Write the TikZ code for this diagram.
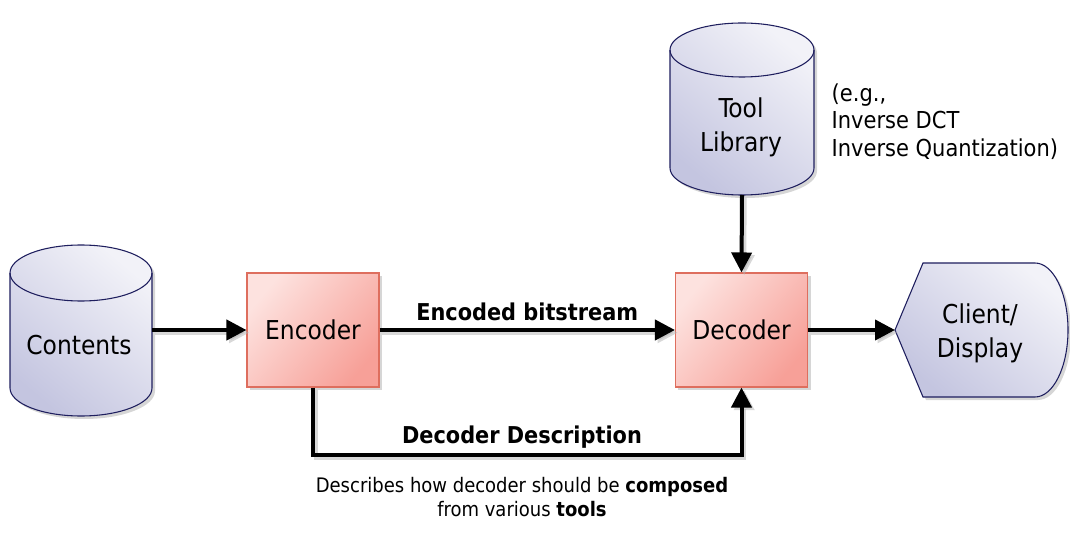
\documentclass[tikz,border=0pt]{standalone}
\usepackage{fontspec}
\setmainfont{DejaVu Sans Condensed}
\usetikzlibrary{arrows.meta,calc}
\definecolor{boxlight}{HTML}{FDE2DF}
\definecolor{boxdark}{HTML}{F7A098}
\definecolor{boxedge}{HTML}{DE6E5E}
\definecolor{cyllight}{HTML}{F2F2F8}
\definecolor{cyldark}{HTML}{C4C5E0}
\definecolor{cyledge}{HTML}{1E1E5E}
\newcommand\mycyl[5]{%
  \fill[black!35,opacity=.45,shift={(3,-3)}] ({#1-#4},#2) -- ({#1-#4},#3) arc[start angle=180,end angle=360,x radius=#4,y radius=#5] -- ({#1+#4},#2) arc[start angle=0,end angle=180,x radius=#4,y radius=#5] -- cycle;
  \path[cylshade] ({#1-#4},#2) -- ({#1-#4},#3) arc[start angle=180,end angle=360,x radius=#4,y radius=#5] -- ({#1+#4},#2) arc[start angle=0,end angle=180,x radius=#4,y radius=#5] -- cycle;
  \draw[cyledge,line width=0.8pt] ({#1-#4},#2) arc[start angle=180,end angle=360,x radius=#4,y radius=#5];
}
\begin{document}
\begin{tikzpicture}[x=0.75pt,y=0.75pt,
  conn/.style={line width=3pt,-{Triangle[length=15pt,width=15pt]}},
  connshadow/.style={line width=3pt,draw=black!30,opacity=.5,-{Triangle[length=15pt,width=15pt]},transform canvas={shift={(2pt,-2pt)}}},
  cylshade/.style={draw=cyledge,line width=0.8pt,top color=cyllight,bottom color=cyldark,shading angle=-40},
  box/.style={draw=boxedge,line width=0.8pt,minimum width=99pt,minimum height=85.5pt,top color=boxlight,bottom color=boxdark,shading angle=50,font=\fontsize{19.5}{23}\selectfont},
  big/.style={font=\fontsize{19.5}{25.5}\selectfont,align=center},
  lbl/.style={font=\fontsize{17.4}{20}\selectfont\bfseries},
  small/.style={font=\fontsize{15}{18}\selectfont,align=center},
  hidden/.style={inner sep=0pt,outer sep=0pt}
]
\useasboundingbox (0,0) rectangle (1070,536);
\fill[white] (0,0) rectangle (1070,536);

% cylinders
\mycyl{81}{263}{148}{71}{28}
\mycyl{742}{486}{368}{72}{27}
\node[hidden,minimum width=106.5pt,minimum height=128.25pt] (cont) at (81,205.5) {};
\node[big] (conttxt) at (79,191) {Contents};
\node[hidden,minimum width=108pt,minimum height=129pt] (lib) at (742,427) {};
\node[big] at (741,409) (libtext) {Tool\\Library};

% client/display
\fill[black!35,opacity=.45,shift={(3,-3)}] (923,273) -- (895,206) -- (923,139) -- (1035,139) arc[start angle=-90,end angle=90,x radius=33,y radius=67] -- cycle;
\path[cylshade] (923,273) -- (895,206) -- (923,139) -- (1035,139) arc[start angle=-90,end angle=90,x radius=33,y radius=67] -- cycle;
\node[hidden,minimum width=129.75pt,minimum height=100.5pt] (cli) at (981.5,206) {};
\node[big] (clitxt) at (980,203) {Client/\\Display};

% boxes
\fill[black!35,opacity=.45] (250,146) rectangle (382,260);
\fill[black!35,opacity=.45] (678,146) rectangle (811,260);
\node[box] (enc) at (313,206) {Encoder};
\node[box] (dec) at (741.5,206) {Decoder};

% e.g. text
\node[big,align=left,anchor=north west,font=\fontsize{17.5}{20.5}\selectfont] (eg) at (827,457) {(e.g.,\\Inverse DCT\\Inverse Quantization)};

% connectors
\coordinate (route) at (0,81);
\draw[connshadow] (cont.east |- enc.west) -- (enc.west);
\draw[connshadow] (enc.east) -- (dec.west);
\draw[connshadow] (dec.east) -- (cli.west);
\draw[connshadow] (lib.south) -- (dec.north);
\draw[connshadow] (enc.south) -- (enc.south |- route) -| (dec.south);
\draw[conn] (cont.east |- enc.west) -- (enc.west);
\draw[conn] (enc.east) -- node[lbl,above=2pt] (encbits) {Encoded bitstream} (dec.west);
\draw[conn] (dec.east) -- (cli.west);
\draw[conn] (lib.south) -- (dec.north);
\draw[conn] (enc.south) -- (enc.south |- route) -| (dec.south);
\node[lbl] (ddesc) at (522,99) {Decoder Description};
\node[small] (note) at (522,39) {Describes how decoder should be \textbf{composed}\\from various \textbf{tools}};
\end{tikzpicture}
\end{document}
